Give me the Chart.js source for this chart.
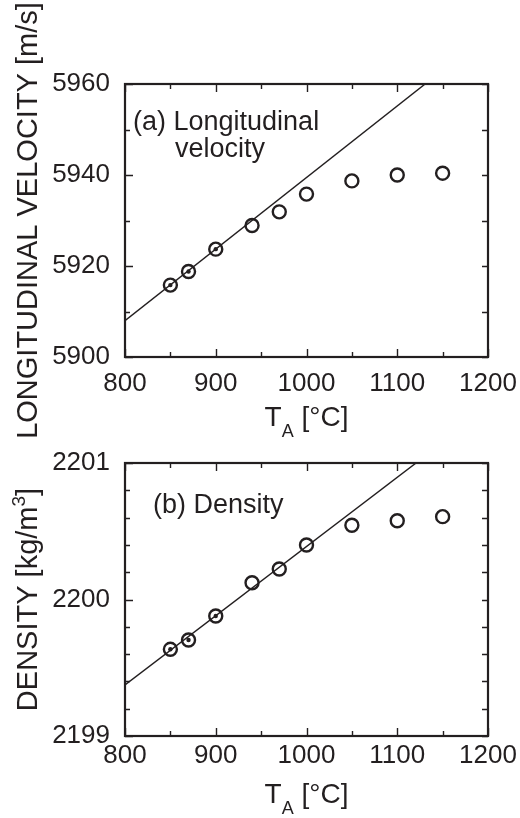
<!DOCTYPE html>
<html><head><meta charset="utf-8">
<script src="https://cdn.jsdelivr.net/npm/chart.js@4/dist/chart.umd.min.js"></script>
<style>
html,body{margin:0;padding:0;background:#fff;}
#wrap{position:relative;width:520px;height:818px;}
.c{position:absolute;left:0;width:520px;}
</style></head><body>
<div id="wrap">
<div class="c" style="top:0;height:440px"><canvas id="c1" width="520" height="440"></canvas></div>
<div class="c" style="top:409px;height:409px"><canvas id="c2" width="520" height="409"></canvas></div>
</div>
<script>
// ---- data ----
const temperatures = [850, 870, 900, 940, 970, 1000, 1050, 1100, 1150];
const velocity = [5915.8, 5918.8, 5923.7, 5928.9, 5931.9, 5935.8, 5938.7, 5940.0, 5940.4];
const density = [2199.635, 2199.703, 2199.879, 2200.123, 2200.223, 2200.399, 2200.544, 2200.577, 2200.607];
const fitTemps = [800, 1200];
const velocityFit = [5908.0, 5970.9];
const densityFit = [2199.374, 2201.402];
const fitPointCount = 3; // first points marked with a dot (used for the fit)
const xTickLabels = [800, 900, 1000, 1100, 1200];
const velocityTickLabels = [5900, 5920, 5940, 5960];
const densityTickLabels = [2199, 2200, 2201];

const INK = '#231f20';
const FONT = "'Liberation Sans', Arial, Helvetica, sans-serif";

function pts(xs, ys) { return xs.map((x, i) => ({x: x, y: ys[i]})); }
function isLabel(list, v) { return list.some(t => Math.abs(t - v) < 1e-6); }
function noPad(s) { s.paddingLeft = 0; s.paddingRight = 0; s.paddingTop = 0; s.paddingBottom = 0; }

const decoPlugin = {
  id: 'deco',
  afterDraw(chart) {
    const o = chart.options.plugins.deco;
    const ctx = chart.ctx, a = chart.chartArea, xs = chart.scales.x, ys = chart.scales.y;
    ctx.save();
    ctx.strokeStyle = INK;
    ctx.lineWidth = 1.4;
    ctx.beginPath();
    xs.ticks.forEach(t => {
      const p = Math.round(xs.getPixelForValue(t.value)) + 0.5;
      const L = isLabel(o.xMajor, t.value) ? 8 : 5;
      ctx.moveTo(p, a.bottom); ctx.lineTo(p, a.bottom - L);
      ctx.moveTo(p, a.top); ctx.lineTo(p, a.top + L);
    });
    ys.ticks.forEach(t => {
      const p = Math.round(ys.getPixelForValue(t.value)) + 0.5;
      const L = isLabel(o.yMajor, t.value) ? 8 : 5;
      ctx.moveTo(a.left, p); ctx.lineTo(a.left + L, p);
      ctx.moveTo(a.right, p); ctx.lineTo(a.right - 6, p);
    });
    ctx.stroke();
    ctx.lineWidth = 2.2;
    ctx.strokeRect(a.left, a.top, a.right - a.left, a.bottom - a.top);

    ctx.fillStyle = INK;
    // annotation
    ctx.font = '27px ' + FONT;
    ctx.textAlign = 'left';
    ctx.textBaseline = 'alphabetic';
    o.annot.forEach(t => ctx.fillText(t.text, t.x, t.y));

    // x title: T with subscript A
    const cx = (a.left + a.right) / 2, by = a.bottom + o.xTitleGap;
    ctx.font = '28px ' + FONT;
    const wT = ctx.measureText('T').width;
    const wR = ctx.measureText(' [\u00B0C]').width;
    ctx.font = '18px ' + FONT;
    const wA = ctx.measureText('A').width;
    let sx = cx - (wT + wA + wR) / 2;
    ctx.font = '28px ' + FONT;
    ctx.fillText('T', sx, by);
    ctx.font = '18px ' + FONT;
    ctx.fillText('A', sx + wT, by + 11);
    ctx.font = '28px ' + FONT;
    ctx.fillText(' [\u00B0C]', sx + wT + wA, by);

    // y title (rotated), centred on the plot area
    ctx.save();
    ctx.translate(o.yTitleX, (a.top + a.bottom) / 2);
    ctx.rotate(-Math.PI / 2);
    const parts = o.yTitle;
    let total = 0;
    parts.forEach(p => { ctx.font = p.size + 'px ' + FONT; p.w = ctx.measureText(p.t).width; total += p.w; });
    let px = -total / 2;
    parts.forEach(p => { ctx.font = p.size + 'px ' + FONT; ctx.fillText(p.t, px, p.dy || 0); px += p.w; });
    ctx.restore();
    ctx.restore();
  }
};

function makeChart(id, cfg) {
  return new Chart(document.getElementById(id), {
    type: 'scatter',
    data: {
      datasets: [
        { data: pts(temperatures.slice(0, fitPointCount), cfg.values.slice(0, fitPointCount)),
          pointRadius: 2.2, pointBackgroundColor: INK, pointBorderWidth: 0, showLine: false },
        { data: pts(temperatures, cfg.values), pointRadius: 6.5, pointBorderWidth: 2.4,
          pointBorderColor: INK, pointBackgroundColor: 'rgba(0,0,0,0)', showLine: false },
        { data: pts(fitTemps, cfg.fit), showLine: true, borderColor: INK, borderWidth: 1.4,
          pointRadius: 0, fill: false }
      ]
    },
    options: {
      responsive: false, animation: false, events: [],
      layout: { padding: { top: cfg.top, right: 32, left: 0, bottom: 0 } },
      plugins: {
        legend: { display: false }, tooltip: { enabled: false }, title: { display: false },
        deco: cfg.deco
      },
      scales: {
        x: {
          type: 'linear', min: 800, max: 1200,
          grid: { display: false, drawTicks: false }, border: { display: false },
          afterFit: s => { s.height = cfg.xHeight; noPad(s); },
          ticks: { stepSize: 50, autoSkip: false, maxRotation: 0, padding: cfg.xPad, color: INK,
            font: { family: FONT, size: 26 },
            callback: v => isLabel(xTickLabels, v) ? String(v) : '' }
        },
        y: {
          type: 'linear', min: cfg.min, max: cfg.max,
          grid: { display: false, drawTicks: false }, border: { display: false },
          afterFit: s => { s.width = 125; noPad(s); },
          ticks: { stepSize: cfg.step, autoSkip: false, padding: 15, color: INK,
            font: { family: FONT, size: 26 },
            callback: v => isLabel(cfg.labels, v) ? String(Math.round(v)) : '' }
        }
      }
    },
    plugins: [decoPlugin]
  });
}

makeChart('c1', {
  values: velocity, fit: velocityFit, min: 5900, max: 5960, step: 10, labels: velocityTickLabels,
  top: 84, xHeight: 83, xPad: 11,
  deco: {
    xMajor: xTickLabels, yMajor: velocityTickLabels, xTitleGap: 69,
    annot: [{text: '(a) Longitudinal', x: 133, y: 130}, {text: 'velocity', x: 175, y: 156.5}],
    yTitleX: 37,
    yTitle: [{t: 'LONGITUDINAL VELOCITY [m/s]', size: 29}]
  }
});

makeChart('c2', {
  values: density, fit: densityFit, min: 2199, max: 2201, step: 0.2, labels: densityTickLabels,
  top: 54, xHeight: 82, xPad: 4.5,
  deco: {
    xMajor: xTickLabels, yMajor: densityTickLabels, xTitleGap: 67,
    annot: [{text: '(b) Density', x: 153, y: 104}],
    yTitleX: 37,
    yTitle: [{t: 'DENSITY [kg/m', size: 29}, {t: '3', size: 19, dy: -12}, {t: ']', size: 29}]
  }
});
</script>
</body></html>
